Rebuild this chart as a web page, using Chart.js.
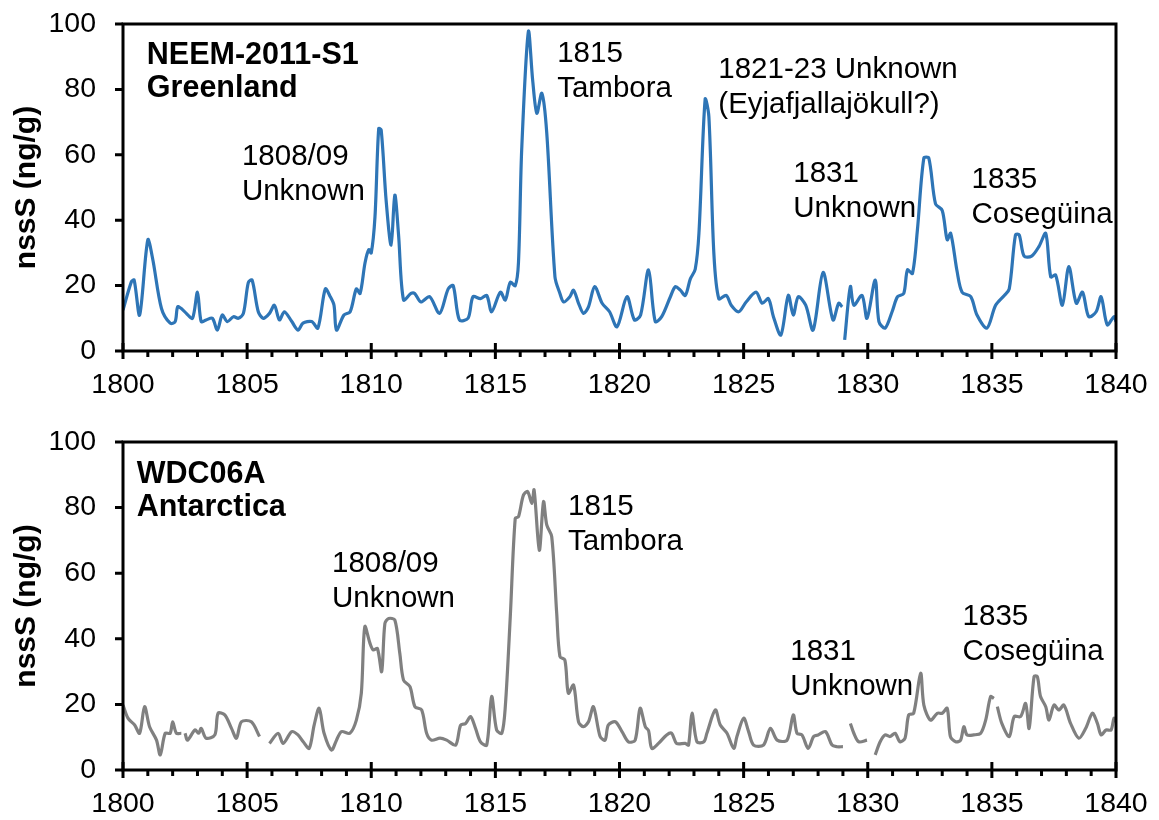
<!DOCTYPE html>
<html>
<head>
<meta charset="utf-8">
<script src="https://cdn.jsdelivr.net/npm/chart.js@4/dist/chart.umd.min.js"></script>
<style>
  html, body { margin: 0; padding: 0; background: #fff; }
  canvas { display: block; }
</style>
</head>
<body>
<canvas id="neemChart" width="1159" height="410"></canvas>
<canvas id="wdcChart" width="1159" height="410"></canvas>
<script>
// NEEM-2011-S1 (Greenland) - null = gap in record
const neemYears = [1800.0, 1800.34, 1800.45, 1800.67, 1801.0, 1801.2, 1801.55, 1801.9, 1802.1, 1802.2, 1802.35, 1802.55, 1802.8, 1803.0, 1803.15, 1803.35, 1803.6, 1803.8, 1804.0, 1804.2, 1804.45, 1804.65, 1804.85, 1805.05, 1805.2, 1805.45, 1805.65, 1805.9, 1806.1, 1806.3, 1806.5, 1806.8, 1807.05, 1807.25, 1807.6, 1807.85, 1808.15, 1808.35, 1808.5, 1808.6, 1808.9, 1809.15, 1809.4, 1809.55, 1809.75, 1809.9, 1810.0, 1810.15, 1810.3, 1810.4, 1810.6, 1810.8, 1810.95, 1811.1, 1811.3, 1811.6, 1811.75, 1812.0, 1812.35, 1812.75, 1813.1, 1813.3, 1813.55, 1813.9, 1814.1, 1814.4, 1814.65, 1814.85, 1815.2, 1815.4, 1815.6, 1815.8, 1815.93, 1816.06, 1816.33, 1816.5, 1816.67, 1816.87, 1817.07, 1817.4, 1817.6, 1817.75, 1818.0, 1818.15, 1818.35, 1818.55, 1818.75, 1819.0, 1819.3, 1819.6, 1819.9, 1820.3, 1820.6, 1820.85, 1821.17, 1821.44, 1821.7, 1822.05, 1822.25, 1822.45, 1822.65, 1822.85, 1823.05, 1823.2, 1823.45, 1823.6, 1823.8, 1824.0, 1824.3, 1824.5, 1824.8, 1825.1, 1825.5, 1825.75, 1826.0, 1826.2, 1826.5, 1826.8, 1827.0, 1827.2, 1827.5, 1827.8, 1828.2, 1828.6, 1828.83, 1828.97, 1829.02, 1829.07, 1829.3, 1829.44, 1829.77, 1829.97, 1830.3, 1830.45, 1830.7, 1830.98, 1831.2, 1831.45, 1831.6, 1831.8, 1832.0, 1832.26, 1832.46, 1832.73, 1833.0, 1833.2, 1833.34, 1833.6, 1833.8, 1834.15, 1834.4, 1834.8, 1835.15, 1835.5, 1835.7, 1835.95, 1836.1, 1836.3, 1836.6, 1836.9, 1837.17, 1837.37, 1837.57, 1837.84, 1838.1, 1838.4, 1838.65, 1838.9, 1839.2, 1839.4, 1839.65, 1839.92, 1840.0];
const neemValues = [12.5, 21.2, 21.7, 11, 34, 28, 13, 8.5, 9, 13.5, 13, 11.5, 10, 18, 9, 9.5, 10, 6.4, 11, 9, 10.5, 10, 11.5, 21, 21.7, 12, 10, 11.5, 14, 9.5, 12, 9, 6.4, 8.5, 9, 7, 19, 16.6, 14, 6.4, 11, 12, 19, 17.6, 27, 31, 30, 41, 68, 67.6, 46, 32.4, 47.7, 35.5, 15.6, 17.6, 17.6, 15, 16.6, 11.5, 19, 20, 9.5, 10, 16.6, 16, 17, 12, 18, 15.6, 21, 20, 27, 61.5, 97.7, 83, 72.7, 78.8, 66.6, 22.7, 17.6, 15, 16.6, 18.6, 14.6, 11.5, 13.5, 19.7, 14.6, 12, 7.4, 16.6, 9.5, 11, 24.8, 9, 10.5, 16.6, 19.7, 18.6, 17, 22, 25, 36, 77, 71.7, 30, 16, 17, 14, 12, 15, 18, 14.6, 16, 10.5, 4.9, 17, 11, 16.6, 14, 6.4, 24, 9.5, 14.6, 13.5, null, 3.4, 19.7, 14, 17, 10, 21.7, 9, 7, 12, 16.6, 17.6, 24.8, 23.7, 37, 59, 59, 45, 43, 34, 36, 24.3, 18, 16.6, 11, 7, 14, 17, 19, 35.5, 35.5, 29, 29, 32, 36, 22.7, 23.2, 14, 25.8, 14.6, 18, 10.5, 12, 16.6, 8, 10.5, 9];

// WDC06A (Antarctica)
const wdcYears = [1800.0, 1800.2, 1800.47, 1800.67, 1800.87, 1801.07, 1801.35, 1801.5, 1801.7, 1801.9, 1802.0, 1802.15, 1802.35, 1802.42, 1802.5, 1802.6, 1802.9, 1803.05, 1803.15, 1803.35, 1803.7, 1803.83, 1804.1, 1804.37, 1804.57, 1804.77, 1805.17, 1805.5, 1805.7, 1805.9, 1806.25, 1806.45, 1806.8, 1807.05, 1807.26, 1807.5, 1807.7, 1807.9, 1808.1, 1808.4, 1808.6, 1808.8, 1809.14, 1809.4, 1809.6, 1809.74, 1809.95, 1810.08, 1810.25, 1810.42, 1810.55, 1810.7, 1810.95, 1811.15, 1811.3, 1811.56, 1811.76, 1812.03, 1812.23, 1812.43, 1812.77, 1813.04, 1813.4, 1813.6, 1813.8, 1814.0, 1814.2, 1814.4, 1814.65, 1814.85, 1815.05, 1815.26, 1815.4, 1815.6, 1815.8, 1815.93, 1816.13, 1816.3, 1816.47, 1816.56, 1816.77, 1816.94, 1817.07, 1817.27, 1817.47, 1817.6, 1817.8, 1817.94, 1818.15, 1818.35, 1818.55, 1818.75, 1818.95, 1819.22, 1819.42, 1819.55, 1819.83, 1820.1, 1820.36, 1820.63, 1820.83, 1821.04, 1821.17, 1821.3, 1821.57, 1821.9, 1822.1, 1822.3, 1822.65, 1822.78, 1822.92, 1823.12, 1823.4, 1823.52, 1823.86, 1824.06, 1824.33, 1824.6, 1824.73, 1825.0, 1825.2, 1825.4, 1825.8, 1826.08, 1826.35, 1826.75, 1827.0, 1827.15, 1827.35, 1827.6, 1827.82, 1828.0, 1828.3, 1828.56, 1828.76, 1829.0, 1829.15, 1829.3, 1829.44, 1829.64, 1829.97, 1830.1, 1830.3, 1830.5, 1830.7, 1830.9, 1831.1, 1831.3, 1831.5, 1831.65, 1831.85, 1832.13, 1832.26, 1832.53, 1832.8, 1833.0, 1833.2, 1833.33, 1833.54, 1833.74, 1833.87, 1834.0, 1834.27, 1834.55, 1834.75, 1834.95, 1835.08, 1835.1, 1835.22, 1835.4, 1835.7, 1835.9, 1836.16, 1836.36, 1836.5, 1836.7, 1836.83, 1836.96, 1837.17, 1837.3, 1837.5, 1837.7, 1837.9, 1838.17, 1838.5, 1838.78, 1839.05, 1839.25, 1839.4, 1839.6, 1839.8, 1839.92, 1840.0];
const wdcValues = [19.8, 15.8, 13.7, 11.2, 19.3, 13.2, 9.1, 4.6, 11.2, 11.2, 14.7, 11.2, 11.2, null, 11.2, 9.1, 12.2, 11.2, 12.7, 9.7, 10.7, 17.3, 16.8, 12.7, 9.7, 14.7, 14.7, 10.2, null, 8.1, 11.2, 8.1, 11.7, 10.7, 8.6, 6.6, 13.7, 18.8, 11.2, 6.1, 9.1, 11.7, 11.2, 15.2, 23.4, 43.7, 38.6, 36.6, 37, 30, 44.7, 46.2, 45.7, 35.6, 27.4, 25.4, 19.3, 18.3, 11.2, 9.1, 9.7, 9.1, 7.6, 13.7, 14.2, 16.3, 12.7, 8.6, 7.6, 22.4, 12.2, 11.2, 19.3, 46.7, 76.7, 77.2, 83.8, 84.9, 81.3, 85.4, 67, 81.8, 74.7, 71.1, 47.8, 34.6, 33.5, 23.4, 25.9, 14.7, 13.2, 14.7, 19.3, 10.2, 9.1, 13.7, 14.7, 11.7, 8.6, 9.1, 18.8, 13.2, 12, 6.6, 8.1, 10.7, 11.2, 8.1, 8.1, 7.6, 17.3, 8.6, 8.6, 11.2, 18.3, 13.7, 11.2, 6.6, 10.2, 15.8, 11.7, 7.6, 7.6, 12.7, 9.1, 9.1, 16.8, 11.2, 10.7, 6.6, 10.2, 10.7, 11.7, 7.6, 7.1, 7.1, null, 14.2, 11.2, 8.6, 9.1, null, 4.6, 8.6, 10.7, 10.2, 11.2, 8.6, 9.7, 16.8, 17.3, 29.5, 19.8, 15.2, 17.3, 17.3, 18.8, 10.2, 8.6, 9.1, 13.2, 10.7, 10.7, 11.2, 15.2, 22.4, 21.8, null, 19.3, 14.2, 10.2, 16.3, 16.3, 20.3, 12.7, 28.5, 28.5, 22.4, 19.3, 15.2, 19.8, 18.3, 19.8, 14.2, 9.7, 12.7, 17.3, 14.2, 10.7, 12.2, 12.2, 15.8, 14.7];

const xTicks = [1800, 1805, 1810, 1815, 1820, 1825, 1830, 1835, 1840];
const yTicks = [0, 20, 40, 60, 80, 100];

// annotation text anchored at (year, value) = left baseline of first line
const neemNotes = [
  { year: 1800.96, value: 87.8, bold: true, lines: ['NEEM-2011-S1', 'Greenland'] },
  { year: 1804.79, value: 56.9, lines: ['1808/09', 'Unknown'] },
  { year: 1817.49, value: 88.4, lines: ['1815', 'Tambora'] },
  { year: 1823.98, value: 83.5, lines: ['1821-23 Unknown', '(Eyjafjallajökull?)'] },
  { year: 1827.0, value: 51.7, lines: ['1831', 'Unknown'] },
  { year: 1834.18, value: 49.8, lines: ['1835', 'Cosegüina'] }
];
const wdcNotes = [
  { year: 1800.55, value: 87.5, bold: true, lines: ['WDC06A', 'Antarctica'] },
  { year: 1808.42, value: 60.4, lines: ['1808/09', 'Unknown'] },
  { year: 1817.93, value: 77.7, lines: ['1815', 'Tambora'] },
  { year: 1826.88, value: 33.5, lines: ['1831', 'Unknown'] },
  { year: 1833.82, value: 44.2, lines: ['1835', 'Cosegüina'] }
];

const FONT = '"Liberation Sans", Arial, sans-serif';
Chart.defaults.font.family = FONT;
Chart.defaults.color = '#000';

// box + ticks + annotation text
const framePlugin = {
  id: 'frame',
  afterDatasetsDraw(chart, args, opts) {
    const { ctx, chartArea: a, scales: { x, y } } = chart;
    ctx.save();
    ctx.strokeStyle = '#000';
    ctx.lineWidth = 3;
    ctx.strokeRect(a.left, a.top, a.right - a.left, a.bottom - a.top);
    ctx.beginPath();
    yTicks.forEach(v => {
      const py = y.getPixelForValue(v);
      ctx.moveTo(a.left - 8, py);
      ctx.lineTo(a.left, py);
    });
    for (let yr = xTicks[0]; yr <= xTicks[xTicks.length - 1]; yr++) {
      const px = x.getPixelForValue(yr);
      const major = xTicks.includes(yr);
      ctx.moveTo(px, a.bottom + (major ? 8 : 6));
      ctx.lineTo(px, major ? a.bottom - 8 : a.bottom);
    }
    ctx.stroke();

    ctx.fillStyle = '#000';
    ctx.textAlign = 'left';
    ctx.textBaseline = 'alphabetic';
    (opts.notes || []).forEach(n => {
      ctx.font = (n.bold ? 'bold 30.5px ' : '29.5px ') + FONT;
      const px = x.getPixelForValue(n.year);
      const py = y.getPixelForValue(n.value);
      n.lines.forEach((t, i) => ctx.fillText(t, px, py + i * (n.bold ? 33 : 35)));
    });
    ctx.restore();
  }
};

function makeChart(id, years, values, color, padTop, axisH, notes) {
  const pts = years.map((yr, i) => ({ x: yr, y: values[i] }));
  return new Chart(document.getElementById(id), {
    type: 'line',
    data: {
      datasets: [{
        data: pts,
        borderColor: color,
        borderWidth: 3.2,
        pointRadius: 0,
        tension: 0.3,
        spanGaps: false,
        borderJoinStyle: 'round'
      }]
    },
    options: {
      responsive: false,
      animation: false,
      events: [],
      layout: { padding: { left: 0, right: 43, top: padTop, bottom: 0 } },
      plugins: { legend: { display: false }, tooltip: { enabled: false }, frame: { notes } },
      scales: {
        x: {
          type: 'linear',
          min: 1800, max: 1840,
          grid: { display: false, drawTicks: false },
          border: { display: false },
          afterBuildTicks: s => { s.ticks = xTicks.map(v => ({ value: v })); },
          afterFit: s => { s.height = axisH; s.paddingLeft = 0; s.paddingRight = 0; },
          ticks: { font: { size: 28.5 }, padding: 17, maxRotation: 0, autoSkip: false, callback: v => String(v) }
        },
        y: {
          min: 0, max: 100,
          grid: { display: false, drawTicks: false },
          border: { display: false },
          afterBuildTicks: s => { s.ticks = yTicks.map(v => ({ value: v })); },
          afterFit: s => { s.width = 123; s.paddingTop = 0; s.paddingBottom = 0; },
          ticks: { font: { size: 28.5 }, padding: 27 },
          title: { display: true, text: 'nssS (ng/g)', font: { size: 30, weight: 'bold' }, padding: { top: 9, bottom: 0 } }
        }
      }
    },
    plugins: [framePlugin]
  });
}

makeChart('neemChart', neemYears, neemValues, '#2E75B6', 24, 59, neemNotes);
makeChart('wdcChart', wdcYears, wdcValues, '#808080', 32, 50, wdcNotes);
</script>
</body>
</html>
